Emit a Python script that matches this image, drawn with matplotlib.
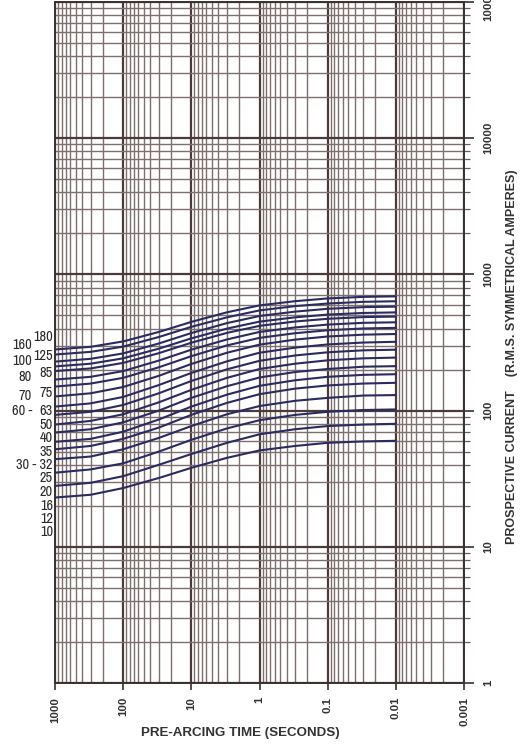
import matplotlib
matplotlib.use("Agg")
import matplotlib.pyplot as plt
from matplotlib import font_manager
from matplotlib.ticker import LogLocator, NullFormatter, FixedLocator, FixedFormatter

# ---------------- data ----------------
times = [1000, 300, 100, 30, 10, 3, 1, 0.3, 0.1, 0.03, 0.01]

curve_180 = [281, 294, 322, 378, 448, 527, 592, 636, 666, 684, 690]
curve_160 = [258, 270, 295, 347, 412, 484, 544, 585, 611, 629, 635]
curve_125 = [229, 240, 263, 311, 371, 439, 495, 533, 559, 575, 580]
curve_100 = [211, 221, 242, 285, 339, 400, 450, 484, 507, 521, 526]
curve_85 = [195, 204, 224, 264, 315, 372, 419, 451, 472, 486, 490]
curve_80 = [169, 177, 195, 233, 280, 333, 378, 408, 428, 441, 445]
curve_75 = [150, 158, 174, 208, 251, 301, 342, 370, 389, 401, 405]
curve_70 = [127, 134, 149, 180, 220, 266, 305, 332, 350, 361, 365]
curve_63 = [107, 113, 126, 154, 189, 230, 266, 290, 306, 316, 320]
curve_60 = [93, 98, 110, 134, 165, 201, 232, 254, 268, 277, 280]
curve_50 = [79, 84, 94, 115, 142, 174, 202, 221, 234, 242, 245]
curve_40 = [69, 73, 82, 100, 124, 151, 175, 192, 202, 210, 212]
curve_35 = [59, 62, 70, 86, 107, 131, 152, 167, 177, 183, 185]
curve_32 = [52, 55, 62, 75, 93, 114, 132, 145, 153, 158, 160]
curve_25 = [44, 46, 52, 63, 77, 94, 108, 118, 124, 129, 130]
curve_20 = [35, 37, 41, 50, 61, 74, 85, 93, 98, 101, 102]
curve_16 = [28, 29.5, 33, 40, 48, 58, 67, 73, 77, 79, 80]
curve_10 = [23, 24.1, 27, 32, 38, 45, 51, 55, 58, 59.4, 60]

curves = [curve_180, curve_160, curve_125, curve_100, curve_85, curve_80,
          curve_75, curve_70, curve_63, curve_60, curve_50, curve_40,
          curve_35, curve_32, curve_25, curve_20, curve_16, curve_10]

x_ticks = [1000, 100, 10, 1, 0.1, 0.01, 0.001]
x_tick_labels = ["1000", "100", "10", "1", "0.1", "0.01", "0.001"]
y_ticks = [1, 10, 100, 1000, 10000, 100000]
y_tick_labels = ["1", "10", "100", "1000", "10000", "100000"]

left_col_labels = ["160", "100", "80", "70", "60 -"]
left_col_y = [345, 361, 377, 396, 411]
right_col_labels = ["180", "125", "85", "75", "63", "50", "40", "35", "30 - 32",
                    "25", "20", "16", "12", "10"]
right_col_y = [337, 356, 373, 393, 411, 425, 438, 452, 465, 478, 492, 506, 519, 532]

# ---------------- pick a narrow font for the curve labels if available ----------------
narrow = None
for f in font_manager.fontManager.ttflist:
    n = f.name.lower()
    if ("narrow" in n or "condensed" in n) and "italic" not in f.style and f.weight in (400, "normal", "regular"):
        if narrow is None or "liberation" in n:
            narrow = f.name
if narrow:
    lab_font = dict(family=[narrow, "DejaVu Sans"], size=10.3, color="#2a2a2a")
else:
    lab_font = dict(family=["Liberation Sans", "DejaVu Sans"], size=8.4, color="#2a2a2a")

# ---------------- figure ----------------
W, H = 527, 746
fig = plt.figure(figsize=(W / 100, H / 100), dpi=100)
fig.patch.set_facecolor("white")
ax = fig.add_axes([55 / W, (H - 683) / H, 409 / W, 681 / H])

ax.set_xscale("log")
ax.set_yscale("log")
ax.set_xlim(1000, 0.001)
ax.set_ylim(1, 100000)

grid_major = "#4a3a3a"
grid_minor = "#7f6e6e"
ax.xaxis.set_minor_locator(LogLocator(base=10, subs=range(2, 10), numticks=20))
ax.yaxis.set_minor_locator(LogLocator(base=10, subs=range(2, 10), numticks=20))
ax.xaxis.set_minor_formatter(NullFormatter())
ax.yaxis.set_minor_formatter(NullFormatter())
ax.grid(which="major", color=grid_major, lw=1.6)
ax.grid(which="minor", color=grid_minor, lw=1.0)
ax.set_axisbelow(True)

for c in curves:
    ax.plot(times, c, color="#2a2b5e", lw=1.5, solid_capstyle="round",
            solid_joinstyle="round")

for sp in ax.spines.values():
    sp.set_color("#3a3030")
    sp.set_linewidth(1.4)

tick_font = dict(family=["Liberation Sans", "DejaVu Sans"], weight="bold", size=8.2)
ax.xaxis.set_major_locator(FixedLocator(x_ticks))
ax.xaxis.set_major_formatter(FixedFormatter(x_tick_labels))
ax.yaxis.set_major_locator(FixedLocator(y_ticks))
ax.yaxis.set_major_formatter(FixedFormatter(y_tick_labels))
ax.yaxis.tick_right()
ax.tick_params(axis="x", which="major", direction="out", length=5, color="#3a3030",
               width=1.2, pad=5)
ax.tick_params(axis="x", which="minor", length=0)
ax.tick_params(axis="y", which="major", direction="out", length=7, color="#3a3030",
               width=1.2, pad=7)
ax.tick_params(axis="y", which="minor", direction="out", length=4, color="#6a5a5a",
               width=0.9)
for lab in ax.get_xticklabels():
    lab.set_rotation(90)
    lab.set(**tick_font, color="#333333", va="top", ha="center")
for lab in ax.get_yticklabels():
    lab.set_rotation(90)
    lab.set(**tick_font, color="#333333", va="center", ha="left")

fig.text(240 / W, 1 - 733 / H, "PRE-ARCING TIME (SECONDS)", ha="center", va="center",
         family=["Liberation Sans", "DejaVu Sans"], weight="bold", size=9.6,
         color="#333333")
fig.text(512 / W, 1 - 357 / H, "PROSPECTIVE CURRENT    (R.M.S. SYMMETRICAL AMPERES)",
         ha="center", va="center", rotation=90,
         family=["Liberation Sans", "DejaVu Sans"], weight="bold", size=9.0,
         color="#333333")

for t, yp in zip(left_col_labels, left_col_y):
    fig.text(32 / W, 1 - yp / H, t, ha="right", va="center", **lab_font)
for t, yp in zip(right_col_labels, right_col_y):
    fig.text(53 / W, 1 - yp / H, t, ha="right", va="center", **lab_font)

fig.savefig("out.png", dpi=100, facecolor="white")
